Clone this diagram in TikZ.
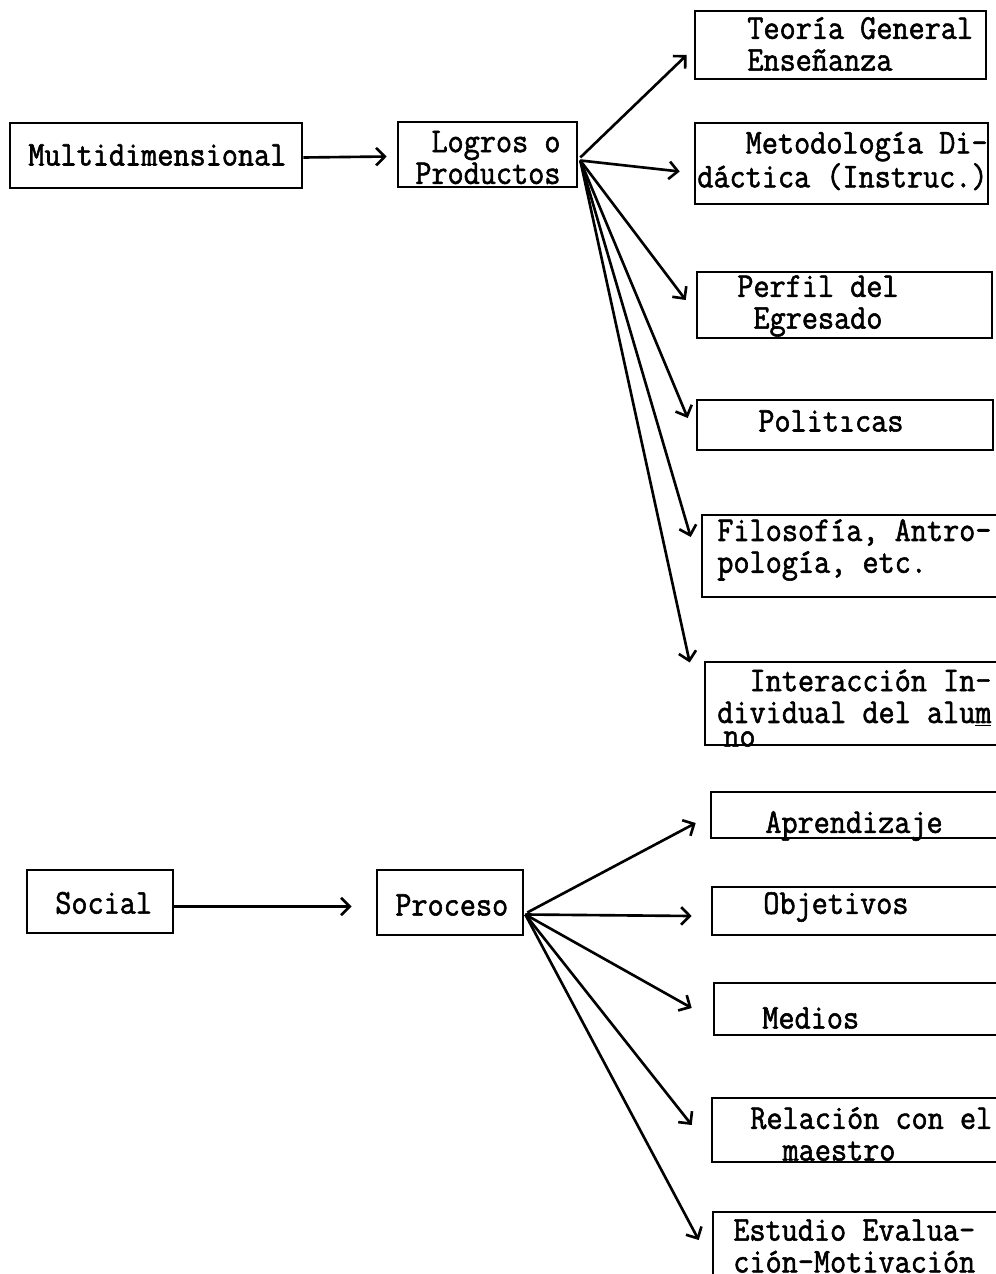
\documentclass[tikz,border=0pt]{standalone}
\usepackage{fontspec}
\setmonofont{Latin Modern Mono}[FakeStretch=0.9, FakeBold=1.6]
\usetikzlibrary{arrows.meta}

\tikzset{
    box/.style={draw, rectangle, line width=1.5pt, inner sep=0pt},
    txt/.style={font=\ttfamily\fontsize{19.8}{18.1}\selectfont, inner sep=0pt, align=left, anchor=west},
    arr/.style={line width=1.5pt, -{Straight Barb[length=5pt,width=10pt]}}
}

\begin{document}
\begin{tikzpicture}[x=0.02cm, y=-0.02cm]
        \useasboundingbox (0,0) rectangle (995,1274);

        % Upper chain
        \node [box, minimum width=5.84cm, minimum height=1.3cm] (multi) at (156,155.5) {};
        \node [txt] (multi-t) at (28,155) {Multidimensional};
        \node [box, minimum width=3.58cm, minimum height=1.3cm] (logros) at (487.5,154.5) {};
        \node [txt] (logros-t) at (415,157.5) {\hphantom{x}Logros o\\Productos};
        \draw [arr] ([shift={(0,2)}]multi.east) -- ([shift={(-10,2)}]logros.west);

        % Products
        \node [box, minimum width=5.82cm, minimum height=1.36cm] (teoria) at (840.5,45) {};
        \node [txt] (teoria-t) at (747,44) {Teoría General\\Enseñanza};
        \node [box, minimum width=5.86cm, minimum height=1.62cm] (metodo) at (841.5,163.5) {};
        \node [txt] (metodo-t) at (697,161) {\hphantom{xxx}Metodología Di-\\dáctica (Instruc.)};
        \node [box, minimum width=5.9cm, minimum height=1.32cm] (perfil) at (844.5,305) {};
        \node [txt] (perfil-t) at (737,306) {Perfil del\\\hphantom{x}Egresado};
        \node [box, minimum width=5.92cm, minimum height=1.0cm] (polit) at (845,425) {};
        \node [txt] (polit-t) at (758,421) {Politıcas};
        \node [box, minimum width=5.92cm, minimum height=1.64cm] (filo) at (850,556) {};
        \node [txt] (filo-t) at (717,550) {Filosofía, Antro-\\pología, etc.};
        \node [box, minimum width=5.9cm, minimum height=1.66cm] (interac) at (852.5,703.5) {};
        \node [txt] (interac-t) at (717,698) {\hphantom{xx}Interacción In-\\dividual del alu\underline{m}};
        \node [txt] (interac-no) at (723,739) {no};

        \draw [arr] ([shift={(2,3)}]logros.east) -- ([shift={(-7,10)}]teoria.west);
        \draw [arr] ([shift={(2,6)}]logros.east) -- ([shift={(-14,8)}]metodo.west);
        \draw [arr] ([shift={(2,6)}]logros.east) -- ([shift={(-10,-5)}]perfil.west);
        \draw [arr] ([shift={(2,6)}]logros.east) -- ([shift={(-8,-7)}]polit.west);
        \draw [arr] ([shift={(2,6)}]logros.east) -- ([shift={(-10,-19)}]filo.west);
        \draw [arr] ([shift={(2,6)}]logros.east) -- ([shift={(-14,-41)}]interac.west);

        % Lower chain
        \node [box, minimum width=2.92cm, minimum height=1.26cm] (social) at (100,901.5) {};
        \node [txt] (social-t) at (55,903) {Social};
        \node [box, minimum width=2.92cm, minimum height=1.3cm] (proceso) at (450,902.5) {};
        \node [txt] (proceso-t) at (395,905) {Proceso};
        \draw [arr] ([shift={(0,5)}]social.east) -- ([shift={(-24,4)}]proceso.west);

        % Process parts
        \node [box, minimum width=5.78cm, minimum height=0.92cm] (aprend) at (855.5,815) {};
        \node [txt] (aprend-t) at (765,826) {Aprendizaje};
        \node [box, minimum width=5.76cm, minimum height=0.96cm] (objet) at (856,911) {};
        \node [txt] (objet-t) at (763,907) {Objetivos};
        \node [box, minimum width=5.72cm, minimum height=1.04cm] (medios) at (857,1009) {};
        \node [txt] (medios-t) at (762,1018) {Medios};
        \node [box, minimum width=5.76cm, minimum height=1.28cm] (relacion) at (856,1130) {};
        \node [txt] (relacion-t) at (750,1134) {Relación con el\\\hphantom{xx}maestro};
        \node [box, minimum width=5.74cm, minimum height=1.56cm] (estudio) at (856.5,1251) {};
        \node [txt] (estudio-t) at (733,1246) {Estudio Evalua-\\ción-Motivación};

        \draw [arr] ([shift={(3,10)}]proceso.east) -- ([shift={(-14,8)}]aprend.west);
        \draw [arr] ([shift={(1,12)}]proceso.east) -- ([shift={(-19,5)}]objet.west);
        \draw [arr] ([shift={(1,12)}]proceso.east) -- ([shift={(-21,-1)}]medios.west);
        \draw [arr] ([shift={(1,12)}]proceso.east) -- ([shift={(-19,-5)}]relacion.west);
        \draw [arr] ([shift={(1,12)}]proceso.east) -- ([shift={(-13,-11)}]estudio.west);
\end{tikzpicture}
\end{document}
